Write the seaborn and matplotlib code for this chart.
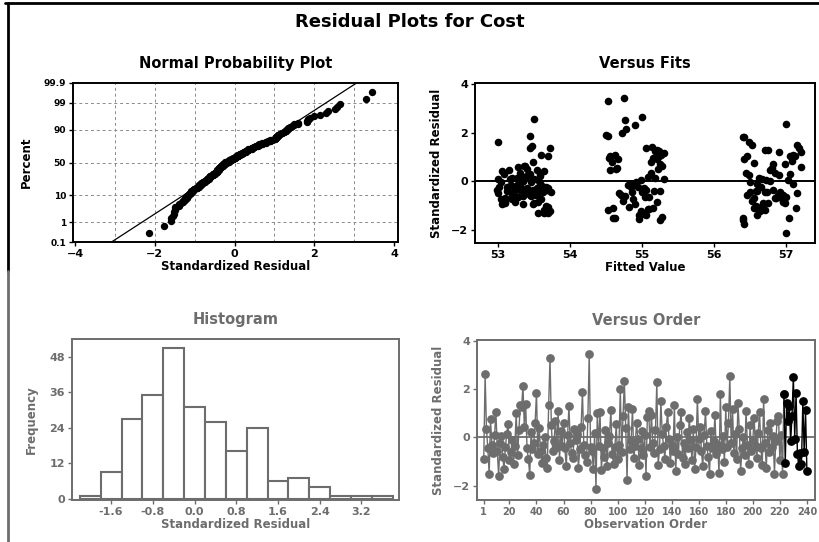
import numpy as np
import pandas as pd
import matplotlib
matplotlib.use('Agg')
import matplotlib.pyplot as plt
import seaborn as sns
from statistics import NormalDist
from matplotlib.lines import Line2D

# ── Data ──────────────────────────────────────────────────────────
residuals = [
    -0.90, 2.64, 0.35, -0.45, -1.52, 0.75, -0.30, -0.65, 0.10, 1.05,
    -0.55, -1.60, -0.22, 0.05, -0.80, -1.30, -0.40, 0.15, 0.55, -0.95,
    -0.62, -0.10, -1.10, -0.35, 1.02, -0.75, 0.30, 1.35, 1.28, 2.15,
    0.45, 1.38, -0.45, -0.90, -1.55, 0.22, -0.50, -0.25, 0.62, 1.85,
    -0.70, 0.40, -0.55, -1.05, -0.30, 0.00, -0.85, -1.25, 1.35, 3.31,
    0.50, -0.58, -0.15, 0.70, -0.40, 1.10, -0.95, 0.25, -0.35, 0.58,
    -0.45, -1.20, 0.10, 1.30, -0.25, -0.65, -0.85, 0.35, -0.10, 0.15,
    -1.25, -0.50, 0.45, 1.90, -0.30, -0.75, -1.02, 0.80, 3.45, -0.40,
    -0.55, -1.30, 0.18, -2.15, 1.02, -0.35, 1.05, -1.35, -0.45, -0.80,
    0.30, -1.20, -0.25, 0.05, 1.15, -0.70, -1.10, -0.40, 0.55, -0.90,
    -0.30, 2.00, -0.62, 0.90, 2.35, 0.40, -1.78, 1.25, -0.50, -0.15,
    1.20, -0.85, -0.35, 0.62, -0.05, -1.15, -0.45, 0.25, -0.75, 0.10,
    -1.60, 0.85, 1.10, -0.40, 0.95, -0.22, -0.65, 0.30, 2.30, -1.15,
    -0.50, 1.50, 0.15, -0.35, -0.90, 0.45, 1.05, -0.05, -1.05, -0.30,
    -0.55, 1.35, -1.38, 0.00, -0.70, 0.50, 1.05, -0.85, -0.25, -1.10,
    0.22, -0.45, 0.80, -0.10, -0.95, 0.35, -1.30, -0.40, 1.60, -0.05,
    0.45, -0.58, -1.20, 0.10, 1.10, -0.35, -0.80, -1.50, 0.25, -0.45,
    -0.15, 0.95, -0.70, -0.30, -1.48, 1.82, -0.50, 0.05, -1.02, 1.25,
    -0.40, 0.62, 2.56, -0.25, 1.20, -0.65, 0.15, -0.90, 1.45, 0.35,
    -1.38, -0.45, 0.00, -0.75, 1.10, -0.30, -1.10, 0.50, -0.55, -0.10,
    0.80, -0.35, -0.85, 0.18, 1.05, -0.45, -1.15, 1.60, -0.25, -1.25,
    0.30, -0.62, 0.58, -0.40, 0.05, -1.50, -0.15, 0.70, 0.90, -0.95,
    0.10, -1.52, 1.82, -1.05, 1.42, 0.70, 1.30, -0.15, 0.90, 2.52,
    -0.05, 1.85, -0.70, -1.20, -0.65, -1.10, 1.50, -0.62, 1.15, -1.38,
]

fitted = [
    53.10, 55.00, 53.30, 56.70, 54.60, 56.55, 53.65, 55.10, 53.00, 57.10,
    53.45, 56.40, 54.85, 53.55, 56.95, 53.70, 55.25, 53.20, 56.80, 54.90,
    53.35, 56.60, 55.15, 52.98, 54.55, 53.60, 57.05, 53.45, 56.75, 54.78,
    53.15, 55.05, 56.50, 53.50, 54.95, 53.40, 57.15, 53.25, 55.28, 53.45,
    56.85, 53.05, 54.70, 56.65, 53.70, 53.35, 55.20, 53.72, 57.18, 54.52,
    53.40, 56.45, 53.60, 55.25, 53.12, 54.62, 53.48, 56.90, 53.68, 53.28,
    55.00, 56.70, 53.50, 55.20, 53.02, 57.00, 53.10, 55.12, 53.58, 56.62,
    54.98, 53.38, 56.78, 54.50, 53.62, 54.88, 56.58, 54.58, 54.75, 53.22,
    56.88, 53.55, 55.08, 57.00, 53.70, 53.30, 57.12, 55.02, 53.42, 56.52,
    53.08, 54.52, 53.66, 56.72, 55.22, 53.18, 56.68, 53.52, 54.65, 56.98,
    53.32, 54.72, 53.46, 56.42, 57.00, 53.64, 56.42, 55.18, 53.00, 54.80,
    57.20, 53.56, 56.82, 53.36, 54.92, 55.10, 53.74, 56.48, 53.20, 55.30,
    55.25, 57.08, 53.60, 56.60, 55.15, 53.14, 56.92, 53.44, 54.90, 53.68,
    54.68, 57.15, 53.26, 55.05, 56.75, 53.54, 56.46, 53.04, 54.82, 53.40,
    56.95, 53.72, 54.96, 53.34, 56.55, 55.22, 57.05, 53.24, 56.65, 54.60,
    53.58, 54.86, 53.48, 57.10, 53.06, 56.85, 53.64, 55.16, 53.00, 56.50,
    54.56, 53.52, 56.62, 53.16, 55.26, 53.70, 54.74, 56.40, 53.42, 56.92,
    53.30, 54.54, 53.10, 55.02, 55.28, 56.40, 53.56, 57.02, 53.66, 55.24,
    56.58, 53.38, 53.50, 54.94, 56.90, 53.28, 55.18, 56.68, 53.47, 56.44,
    55.06, 53.62, 56.78, 53.04, 57.10, 53.54, 56.56, 54.64, 53.20, 54.84,
    55.12, 53.48, 56.96, 53.36, 55.24, 56.74, 55.08, 56.48, 53.12, 56.64,
    53.58, 54.76, 57.20, 53.44, 54.98, 57.04, 53.26, 56.82, 55.20, 53.34,
    56.66, 54.62, 56.42, 53.70, 55.14, 56.98, 56.70, 53.18, 54.66, 54.76,
    53.46, 54.52, 56.86, 53.64, 55.04, 57.14, 56.52, 53.24, 55.30, 56.60,
]

pct_ticks = [0.1, 1, 10, 50, 90, 99, 99.9]
pct_labels = ['0.1', '1', '10', '50', '90', '99', '99.9']
fit_ticks = [53, 54, 55, 56, 57]
hist_ticks = [-1.6, -0.8, 0.0, 0.8, 1.6, 2.4, 3.2]
count_ticks = [0, 12, 24, 36, 48]
order_ticks = [1, 20, 40, 60, 80, 100, 120, 140, 160, 180, 200, 220, 240]
resid_ticks = [-2, 0, 2, 4]
dark_from = 223      # last stretch of the order plot prints in black

GRAY = '#6d6d6d'
BLACK = 'black'

df = pd.DataFrame({'order': np.arange(1, len(residuals) + 1),
                   'resid': residuals,
                   'fit': fitted})

# ── Style ─────────────────────────────────────────────────────────
sns.set_theme(style='white')
plt.rcParams['font.family'] = ['DejaVu Sans']
plt.rcParams['font.weight'] = 'bold'
plt.rcParams['axes.linewidth'] = 1.4
plt.rcParams['xtick.major.size'] = 3
plt.rcParams['ytick.major.size'] = 3
plt.rcParams['xtick.bottom'] = True
plt.rcParams['ytick.left'] = True

W, H = 819, 542
fig = plt.figure(figsize=(W / 100, H / 100), dpi=100)
fig.patch.set_facecolor('white')


def px_axes(left, top, right, bottom):
    return fig.add_axes([left / W, 1 - bottom / H,
                         (right - left) / W, (bottom - top) / H])


def style_axes(ax, color):
    for sp in ax.spines.values():
        sp.set_color(color)
    ax.tick_params(colors=color, labelsize=8, width=1, pad=2)
    for lab in ax.get_xticklabels() + ax.get_yticklabels():
        lab.set_fontweight('bold')


fig.text(410 / W, 1 - 22 / H, 'Residual Plots for Cost', ha='center',
         va='center', fontsize=13, fontweight='bold', color=BLACK)

# ─ 1. Normal probability plot ─────────────────
nd = NormalDist()
n = len(df)
npp = pd.DataFrame({
    'resid': np.sort(df['resid'].to_numpy()),
    'z': [nd.inv_cdf((i - 0.3) / (n + 0.4)) for i in range(1, n + 1)],
})
zlim = nd.inv_cdf(0.999)
mu, sd = df['resid'].mean(), df['resid'].std()

ax = px_axes(73, 83, 398, 242)
for gx in range(-3, 4):
    ax.axvline(gx, color='#8a8a8a', lw=0.7, ls=(0, (3, 3)), zorder=0)
for p in pct_ticks[1:-1]:
    ax.axhline(nd.inv_cdf(p / 100), color='#8a8a8a', lw=0.7,
               ls=(0, (3, 3)), zorder=0)
ax.plot([mu - sd * zlim, mu + sd * zlim], [-zlim, zlim],
        color=BLACK, lw=0.9, zorder=1)
sns.scatterplot(data=npp, x='resid', y='z', ax=ax, color=BLACK, s=28,
                linewidth=0, zorder=2)
ax.set_xlim(-4.05, 4.1)
ax.set_ylim(-zlim, zlim)
ax.set_xticks([-4, -2, 0, 2, 4])
ax.set_yticks([nd.inv_cdf(p / 100) for p in pct_ticks], labels=pct_labels)
ax.set_title('Normal Probability Plot', fontsize=10.5, fontweight='bold',
             pad=11, color=BLACK)
ax.set_xlabel('Standardized Residual', fontsize=8.5, fontweight='bold',
              labelpad=1, color=BLACK)
ax.set_ylabel('Percent', fontsize=8.5, fontweight='bold', labelpad=8,
              color=BLACK)
style_axes(ax, BLACK)
ax.tick_params(axis='y', labelsize=6.5)

# ─ 2. Versus fits ─────────────────────────────
ax = px_axes(475, 83, 815, 243)
ax.axhline(0, color=BLACK, lw=1.4, zorder=1)
sns.scatterplot(data=df, x='fit', y='resid', ax=ax, color=BLACK, s=30,
                linewidth=0, zorder=2)
ax.set_xlim(52.68, 57.4)
ax.set_ylim(-2.55, 4.05)
ax.set_xticks(fit_ticks)
ax.set_yticks(resid_ticks)
ax.set_title('Versus Fits', fontsize=10.5, fontweight='bold', pad=11,
             color=BLACK)
ax.set_xlabel('Fitted Value', fontsize=8.5, fontweight='bold', labelpad=1,
              color=BLACK)
ax.set_ylabel('Standardized Residual', fontsize=8.5, fontweight='bold',
              labelpad=6, color=BLACK)
style_axes(ax, BLACK)

# ─ 3. Histogram ───────────────────────────────
ax = px_axes(72, 339, 399, 500)
sns.histplot(data=df, x='resid', binwidth=0.4, binrange=(-2.2, 3.8),
             ax=ax, color='white', edgecolor=GRAY, linewidth=1.5, alpha=1)
ax.set_xlim(-2.35, 3.92)
ax.set_ylim(-0.5, 54)
ax.set_xticks(hist_ticks, labels=[f'{t:.1f}' for t in hist_ticks])
ax.set_yticks(count_ticks)
ax.set_title('Histogram', fontsize=10.5, fontweight='bold', pad=11,
             color=GRAY)
ax.set_xlabel('Standardized Residual', fontsize=8.5, fontweight='bold',
              labelpad=1, color=GRAY)
ax.set_ylabel('Frequency', fontsize=8.5, fontweight='bold', labelpad=8,
              color=GRAY)
style_axes(ax, GRAY)

# ─ 4. Versus order ────────────────────────────
ax = px_axes(477, 340, 815, 500)
ax.axhline(0, color=GRAY, lw=1.3, zorder=1)
sns.lineplot(data=df[df['order'] <= dark_from], x='order', y='resid',
             ax=ax, color=GRAY, lw=1.0, marker='o', markersize=6.3,
             markeredgewidth=0, zorder=2)
sns.lineplot(data=df[df['order'] >= dark_from], x='order', y='resid',
             ax=ax, color=BLACK, lw=1.0, marker='o', markersize=6.3,
             markeredgewidth=0, zorder=3)
ax.set_xlim(-4, 246)
ax.set_ylim(-2.6, 4.05)
ax.set_xticks(order_ticks)
ax.set_yticks(resid_ticks)
ax.set_title('Versus Order', fontsize=10.5, fontweight='bold', pad=11,
             color=GRAY)
ax.set_xlabel('Observation Order', fontsize=8.5, fontweight='bold',
              labelpad=1, color=GRAY)
ax.set_ylabel('Standardized Residual', fontsize=8.5, fontweight='bold',
              labelpad=6, color=GRAY)
style_axes(ax, GRAY)
ax.tick_params(axis='x', labelsize=7)

# ─ Page frame from the scan ───────────────────
fig.add_artist(Line2D([5 / W, 1], [1 - 3 / H, 1 - 3 / H],
                      color=BLACK, lw=2, transform=fig.transFigure))
fig.add_artist(Line2D([8 / W, 8 / W], [1 - 3 / H, 0.5],
                      color=BLACK, lw=2, transform=fig.transFigure))
fig.add_artist(Line2D([8 / W, 8 / W], [0.5, 0],
                      color=GRAY, lw=2, transform=fig.transFigure))

fig.savefig('out.png', dpi=100, facecolor='white')
